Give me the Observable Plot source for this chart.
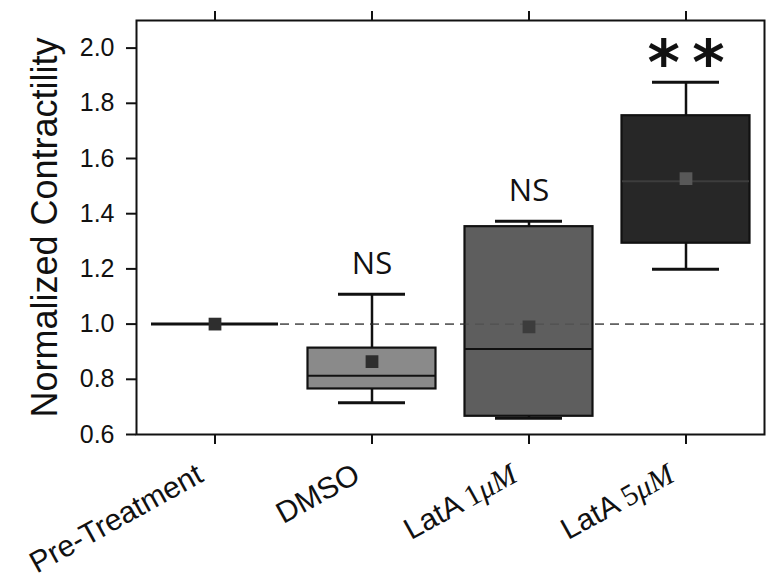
<!DOCTYPE html>
<html>
<head>
<meta charset="utf-8">
<script src="https://cdn.jsdelivr.net/npm/d3@7"></script>
<script src="https://cdn.jsdelivr.net/npm/@observablehq/plot@0.6"></script>
<style>
  html, body { margin: 0; padding: 0; background: #fff; }
  #chart { width: 767px; height: 585px; }
</style>
</head>
<body>
<div id="chart"></div>
<script>
// ---- data ----
const categories   = ["Pre-Treatment", "DMSO", "LatA 1μM", "LatA 5μM"];
const lowWhisker   = [1.0, 0.715, 0.659, 1.199];
const q1           = [1.0, 0.765, 0.666, 1.293];
const medians      = [1.0, 0.813, 0.910, 1.518];
const q3           = [1.0, 0.913, 1.353, 1.755];
const highWhisker  = [1.0, 1.108, 1.373, 1.876];
const means        = [1.0, 0.864, 0.990, 1.527];
const significance = ["", "NS", "NS", "**"];
const yTicks       = [0.6, 0.8, 1.0, 1.2, 1.4, 1.6, 1.8, 2.0];
const referenceLevel = [1.0];

// ---- styles (kept out of the data) ----
const boxFill  = {"DMSO": "#8a8a8a", "LatA 1μM": "#5e5e5e", "LatA 5μM": "#272727"};
const meanFill = {"Pre-Treatment": "#2e2e2e", "DMSO": "#2e2e2e", "LatA 1μM": "#3c3c3c", "LatA 5μM": "#585858"};
const medianStroke = {"Pre-Treatment": "#111", "DMSO": "#111", "LatA 1μM": "#111", "LatA 5μM": "#3d3d3d"};

const rows = categories.map((c, i) => ({
  cat: c, lo: lowWhisker[i], q1: q1[i], med: medians[i], q3: q3[i],
  hi: highWhisker[i], mean: means[i], sig: significance[i]
}));
const boxes = rows.filter(d => d.q3 > d.q1);
const ns = rows.filter(d => d.sig === "NS");
const stars = rows.filter(d => d.sig === "**");

const plot = Plot.plot({
  width: 767,
  height: 585,
  marginLeft: 136,
  marginRight: 3,
  marginTop: 20,
  marginBottom: 151,
  style: {fontFamily: "'Liberation Sans', Arial, sans-serif", background: "#fff", color: "#111"},
  x: {type: "band", domain: categories, padding: 0},
  y: {domain: [0.6, 2.1]},
  marks: [
    // reference dashed line at 1.0
    Plot.ruleY(referenceLevel, {stroke: "#777", strokeWidth: 1.6, strokeDasharray: "9,6", insetLeft: 144}),
    // whiskers
    Plot.ruleX(rows, {x: "cat", y1: "q3", y2: "hi", stroke: "#111", strokeWidth: 2.5}),
    Plot.ruleX(rows, {x: "cat", y1: "lo", y2: "q1", stroke: "#111", strokeWidth: 2.5}),
    Plot.tickY(boxes, {x: "cat", y: "hi", stroke: "#111", strokeWidth: 3, insetLeft: 45, insetRight: 45}),
    Plot.tickY(boxes, {x: "cat", y: "lo", stroke: "#111", strokeWidth: 3, insetLeft: 45, insetRight: 45}),
    // boxes
    Plot.rectY(boxes, {x: "cat", y1: "q1", y2: "q3", fill: d => boxFill[d.cat], stroke: "#111", strokeWidth: 2.2, insetLeft: 14.5, insetRight: 14.5}),
    // dashed line drawn faintly over boxes too
    Plot.ruleY(referenceLevel, {stroke: "#444", strokeOpacity: 0.5, strokeWidth: 1.4, strokeDasharray: "9,6", insetLeft: 144}),
    // medians
    Plot.tickY(rows, {x: "cat", y: "med", stroke: d => medianStroke[d.cat], strokeWidth: d => d.q3 > d.q1 ? 2 : 3, insetLeft: 15, insetRight: 15}),
    // means
    Plot.dot(rows, {x: "cat", y: "mean", symbol: "square", r: 7.2, fill: d => meanFill[d.cat], stroke: null}),
    // significance labels
    Plot.text(ns, {x: "cat", y: "hi", text: "sig", dy: -20, lineAnchor: "bottom", fontSize: 31, fontFamily: "'Open Sans', sans-serif", fill: "#111"}),
    Plot.text(stars, {x: "cat", y: "hi", text: d => d.sig.split("").join("\u2009"), dy: 2, lineAnchor: "bottom", fontSize: 62, fontWeight: "bold", fontFamily: "'DejaVu Sans', sans-serif", fill: "#111"}),
    // axes
    Plot.axisY({ticks: yTicks, tickFormat: d3.format(".1f"), tickSize: 10, tickPadding: 12, fontSize: 25, label: null, strokeWidth: 2}),
    Plot.axisX({anchor: "top", tickSize: 10, tickFormat: () => "", label: null, strokeWidth: 2}),
    Plot.axisX({anchor: "bottom", tickSize: 10, tickFormat: () => "", label: null, strokeWidth: 2}),
    // category labels
    Plot.text(categories, {x: d => d, frameAnchor: "bottom", textAnchor: "end", lineAnchor: "bottom", rotate: -29, dx: -10, dy: 46, fontSize: 30, fill: "#111", className: "xlab"}),
    // y title
    Plot.text(["Normalized Contractility"], {frameAnchor: "left", textAnchor: "middle", dx: -91, rotate: -90, lineAnchor: "middle", fontSize: 36, fill: "#111"}),
    Plot.frame({stroke: "#111", strokeWidth: 2})
  ]
});

// Render "1μM"/"5μM" in a math-like serif style, as in the reference
d3.select(plot).selectAll("g.xlab text").each(function() {
  const t = d3.select(this);
  const s = t.text();
  const m = s.match(/^(.*\s)(\d)(μM)$/);
  if (m) {
    t.text(null);
    t.append("tspan").text(m[1]);
    t.append("tspan").attr("font-family", "'Liberation Serif', 'DejaVu Serif', serif").text(m[2]);
    t.append("tspan").attr("font-family", "'Liberation Serif', 'DejaVu Serif', serif").attr("font-style", "italic").text(m[3]);
  }
});

document.getElementById("chart").appendChild(plot);
</script>
</body>
</html>
